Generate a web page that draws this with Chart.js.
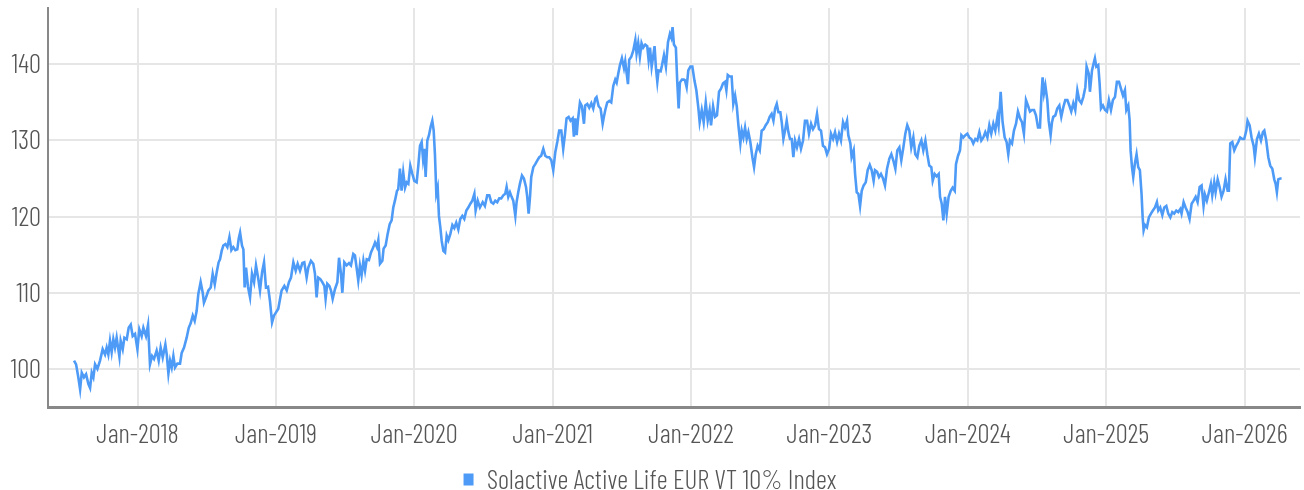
<!DOCTYPE html>
<html>
<head>
<meta charset="utf-8">
<script src="https://cdn.jsdelivr.net/npm/chart.js@4/dist/chart.umd.min.js"></script>
<style>
  html, body { margin: 0; padding: 0; background: #fff; }
  #wrap { width: 1304px; height: 490px; }
</style>
</head>
<body>
<div id="wrap"><canvas id="chart" width="1304" height="490"></canvas></div>
<script>
const seriesName = 'Solactive Active Life EUR VT 10% Index';

// time as decimal year
const dates = [
  2017.541, 2017.556, 2017.572, 2017.585, 2017.597, 2017.613, 2017.628, 2017.645, 2017.657, 2017.669,
  2017.681, 2017.693, 2017.710, 2017.729, 2017.748, 2017.765, 2017.777, 2017.789, 2017.801, 2017.813,
  2017.825, 2017.837, 2017.849, 2017.869, 2017.878, 2017.893, 2017.905, 2017.922, 2017.936, 2017.951,
  2017.965, 2017.982, 2017.999, 2018.013, 2018.030, 2018.042, 2018.061, 2018.076, 2018.090, 2018.105,
  2018.119, 2018.138, 2018.153, 2018.167, 2018.182, 2018.201, 2018.211, 2018.223, 2018.235, 2018.247,
  2018.259, 2018.271, 2018.288, 2018.307, 2018.319, 2018.336, 2018.355, 2018.370, 2018.384, 2018.399,
  2018.413, 2018.427, 2018.439, 2018.456, 2018.471, 2018.480, 2018.495, 2018.512, 2018.529, 2018.543,
  2018.558, 2018.572, 2018.586, 2018.596, 2018.608, 2018.620, 2018.635, 2018.649, 2018.664, 2018.678,
  2018.692, 2018.707, 2018.721, 2018.731, 2018.741, 2018.755, 2018.765, 2018.774, 2018.784, 2018.798,
  2018.813, 2018.827, 2018.842, 2018.856, 2018.871, 2018.885, 2018.900, 2018.914, 2018.928, 2018.943,
  2018.957, 2018.972, 2018.986,
  2018.993, 2019.017, 2019.041, 2019.061, 2019.078, 2019.094, 2019.109, 2019.126, 2019.143, 2019.157,
  2019.174, 2019.191, 2019.205, 2019.222, 2019.234, 2019.253, 2019.270, 2019.282, 2019.294, 2019.306,
  2019.321, 2019.335, 2019.350, 2019.359, 2019.371, 2019.386, 2019.398, 2019.410, 2019.427, 2019.444,
  2019.456, 2019.470, 2019.480, 2019.494, 2019.511, 2019.528, 2019.542, 2019.559, 2019.571, 2019.586,
  2019.595, 2019.607, 2019.619, 2019.632, 2019.644, 2019.656, 2019.672, 2019.687, 2019.704, 2019.716,
  2019.730, 2019.740, 2019.752, 2019.769, 2019.778, 2019.793, 2019.807, 2019.822, 2019.836, 2019.848,
  2019.860, 2019.875, 2019.884, 2019.896, 2019.908, 2019.920, 2019.933, 2019.945, 2019.957, 2019.971,
  2019.986, 2020.000, 2020.017, 2020.029, 2020.041, 2020.053, 2020.063, 2020.072, 2020.082, 2020.094,
  2020.106, 2020.118, 2020.130, 2020.140, 2020.149, 2020.159, 2020.169, 2020.178, 2020.188, 2020.198,
  2020.210, 2020.222, 2020.234, 2020.246, 2020.260, 2020.275, 2020.289, 2020.303, 2020.318, 2020.332,
  2020.347, 2020.361, 2020.376, 2020.390, 2020.405, 2020.419, 2020.434, 2020.443, 2020.458,
  2020.474, 2020.494, 2020.510, 2020.527, 2020.542, 2020.556, 2020.571, 2020.585, 2020.599, 2020.614,
  2020.628, 2020.643, 2020.657, 2020.667, 2020.679, 2020.691, 2020.703, 2020.715, 2020.730, 2020.739,
  2020.751, 2020.763, 2020.778, 2020.792, 2020.807, 2020.816, 2020.826, 2020.836, 2020.845, 2020.860,
  2020.874, 2020.889, 2020.903, 2020.917, 2020.932, 2020.946, 2020.961, 2020.975, 2020.990, 2021.004,
  2021.019, 2021.033, 2021.047, 2021.062, 2021.076, 2021.088, 2021.100, 2021.115, 2021.129, 2021.144,
  2021.153, 2021.163, 2021.173, 2021.182, 2021.197, 2021.211, 2021.226, 2021.235, 2021.250, 2021.264,
  2021.279, 2021.293, 2021.308, 2021.317, 2021.332, 2021.346, 2021.361, 2021.370, 2021.380, 2021.394,
  2021.409, 2021.423, 2021.438, 2021.452, 2021.462, 2021.474, 2021.486, 2021.500, 2021.515, 2021.524,
  2021.534, 2021.544, 2021.553, 2021.568, 2021.582, 2021.597, 2021.606, 2021.618, 2021.630, 2021.642,
  2021.654, 2021.669, 2021.683, 2021.693, 2021.703, 2021.715, 2021.727, 2021.736, 2021.746, 2021.756,
  2021.765, 2021.780, 2021.789, 2021.804, 2021.818, 2021.833, 2021.847, 2021.857, 2021.866, 2021.876,
  2021.890, 2021.900, 2021.910, 2021.919, 2021.934, 2021.948,
  2021.956, 2021.968, 2021.980, 2021.995, 2022.009, 2022.024, 2022.038, 2022.053, 2022.062, 2022.077,
  2022.091, 2022.106, 2022.120, 2022.134, 2022.144, 2022.159, 2022.173, 2022.187, 2022.202, 2022.216,
  2022.231, 2022.245, 2022.255, 2022.265, 2022.279, 2022.293, 2022.305, 2022.318, 2022.330, 2022.342,
  2022.356, 2022.366, 2022.378, 2022.390, 2022.402, 2022.414, 2022.428, 2022.443, 2022.455, 2022.467,
  2022.481, 2022.496, 2022.510, 2022.525, 2022.539, 2022.554, 2022.568, 2022.582, 2022.595, 2022.607,
  2022.619, 2022.631, 2022.645, 2022.655, 2022.667, 2022.679, 2022.691, 2022.703, 2022.715, 2022.727,
  2022.739, 2022.751, 2022.765, 2022.780, 2022.794, 2022.809, 2022.823, 2022.838, 2022.852, 2022.867,
  2022.881, 2022.896, 2022.910, 2022.924, 2022.939, 2022.953, 2022.968, 2022.982, 2022.997, 2023.011,
  2023.026, 2023.040, 2023.055, 2023.069, 2023.083, 2023.098, 2023.112, 2023.127, 2023.136, 2023.151,
  2023.160, 2023.175, 2023.185, 2023.197, 2023.209, 2023.221, 2023.233, 2023.247, 2023.262, 2023.276,
  2023.291, 2023.305, 2023.319, 2023.329, 2023.344, 2023.358, 2023.372, 2023.387, 2023.401, 2023.416,
  2023.430,
  2023.432, 2023.447, 2023.461, 2023.476, 2023.490, 2023.505, 2023.519, 2023.534, 2023.548, 2023.562,
  2023.577, 2023.591, 2023.606, 2023.620, 2023.635, 2023.649, 2023.664, 2023.678, 2023.693, 2023.707,
  2023.721, 2023.736, 2023.746, 2023.760, 2023.774, 2023.789, 2023.799, 2023.811, 2023.823, 2023.835,
  2023.847, 2023.861, 2023.876, 2023.890, 2023.905, 2023.914, 2023.929, 2023.943, 2023.953, 2023.967,
  2023.982, 2023.996, 2024.010, 2024.025, 2024.039, 2024.054, 2024.068, 2024.083, 2024.097, 2024.112,
  2024.126, 2024.141, 2024.155, 2024.169, 2024.184, 2024.198, 2024.213, 2024.222, 2024.237, 2024.251,
  2024.266, 2024.280, 2024.292, 2024.304, 2024.319, 2024.333, 2024.348, 2024.362, 2024.377, 2024.391,
  2024.405, 2024.420, 2024.434, 2024.449, 2024.463, 2024.478, 2024.492, 2024.507, 2024.521, 2024.531,
  2024.540, 2024.550, 2024.560, 2024.574, 2024.584, 2024.598, 2024.608, 2024.617, 2024.632, 2024.646,
  2024.661, 2024.675, 2024.690, 2024.704, 2024.719, 2024.733, 2024.747, 2024.762, 2024.776, 2024.791,
  2024.805, 2024.820, 2024.834, 2024.849, 2024.858, 2024.873, 2024.882, 2024.897, 2024.911,
  2024.918, 2024.928, 2024.942, 2024.952, 2024.962, 2024.976, 2024.991, 2025.005, 2025.019, 2025.034,
  2025.048, 2025.063, 2025.077, 2025.092, 2025.106, 2025.121, 2025.135, 2025.145, 2025.159, 2025.169,
  2025.176, 2025.186, 2025.195, 2025.207, 2025.219, 2025.231, 2025.243, 2025.255, 2025.263, 2025.270,
  2025.280, 2025.294, 2025.308, 2025.323, 2025.337, 2025.352, 2025.366, 2025.376, 2025.390, 2025.405,
  2025.419, 2025.434, 2025.448, 2025.463, 2025.477, 2025.491, 2025.506, 2025.520, 2025.535, 2025.544,
  2025.559, 2025.573, 2025.588, 2025.602, 2025.617, 2025.631, 2025.646, 2025.660, 2025.675, 2025.689,
  2025.703, 2025.713, 2025.727, 2025.742, 2025.756, 2025.766, 2025.780, 2025.790, 2025.805, 2025.819,
  2025.833, 2025.848, 2025.862, 2025.877, 2025.886, 2025.896, 2025.911, 2025.925, 2025.939, 2025.954,
  2025.968, 2025.983, 2025.997, 2026.012, 2026.021, 2026.036, 2026.050, 2026.065, 2026.074, 2026.089,
  2026.103, 2026.118, 2026.132, 2026.142, 2026.156, 2026.171, 2026.185, 2026.200, 2026.214, 2026.224,
  2026.233, 2026.243, 2026.257, 2026.267
];

const values = [
  101.1, 100.6, 98.9, 97.3, 99.5, 98.9, 99.3, 98.0, 97.5, 99.5,
  98.9, 100.6, 100.0, 101.1, 102.6, 101.9, 102.8, 101.9, 103.7, 102.2,
  103.9, 102.8, 104.1, 101.6, 103.7, 102.6, 104.1, 103.9, 105.4, 105.8,
  104.3, 104.6, 102.6, 105.2, 104.3, 105.4, 104.3, 105.8, 100.6, 101.7,
  101.3, 102.4, 101.1, 102.8, 101.5, 103.2, 101.9, 99.4, 101.1, 100.2,
  101.7, 100.2, 100.7, 100.7, 102.1, 102.8, 104.1, 105.4, 106.0, 107.0,
  106.3, 107.6, 109.8, 111.4, 110.0, 108.7, 109.4, 110.3, 110.7, 112.5,
  111.1, 112.7, 114.0, 114.4, 115.5, 116.2, 116.4, 116.0, 117.3, 115.6,
  116.0, 115.6, 115.7, 117.1, 117.9, 116.2, 115.7, 110.7, 113.3, 110.8,
  109.4, 112.5, 111.4, 113.6, 112.0, 110.3, 112.7, 114.0, 110.7, 110.8,
  108.9, 106.1, 107.0,
  107.2, 107.9, 110.3, 110.9, 110.3, 111.4, 112.0, 114.0, 112.9, 113.8,
  112.9, 113.9, 114.0, 112.0, 113.3, 114.2, 113.8, 112.5, 109.4, 112.0,
  111.8, 111.4, 110.9, 109.2, 111.2, 110.9, 110.3, 109.2, 110.5, 111.4,
  114.6, 112.5, 110.0, 114.0, 113.6, 113.9, 113.6, 115.1, 114.9, 112.9,
  111.6, 113.6, 112.3, 114.2, 112.9, 114.4, 114.3, 115.3, 116.0, 116.6,
  116.0, 116.9, 113.8, 114.2, 115.8, 116.2, 117.7, 119.0, 119.5, 121.2,
  122.1, 123.4, 123.6, 126.3, 123.4, 125.8, 123.8, 124.5, 124.3, 126.7,
  125.6, 124.7, 124.5, 126.7, 129.3, 129.8, 127.6, 128.9, 125.2, 130.0,
  130.7, 131.8, 132.6, 131.3, 128.2, 123.0, 123.8, 120.1, 118.6, 116.8,
  115.5, 115.3, 117.5, 116.9, 117.7, 118.9, 118.5, 119.2, 118.3, 119.7,
  120.1, 119.7, 120.8, 121.2, 121.7, 122.1, 123.0, 120.8, 122.1,
  121.2, 121.9, 121.4, 122.8, 122.8, 121.9, 121.7, 122.1, 121.9, 122.4,
  122.4, 122.8, 123.0, 123.9, 122.6, 123.2, 122.6, 122.1, 120.1, 121.9,
  123.2, 124.3, 125.4, 125.0, 123.9, 122.6, 120.4, 122.6, 125.2, 126.5,
  126.9, 127.4, 127.8, 128.0, 128.9, 128.0, 127.8, 127.8, 127.4, 126.1,
  128.5, 129.8, 131.3, 131.3, 128.9, 130.7, 132.9, 133.1, 132.6, 132.9,
  130.5, 132.9, 130.7, 132.6, 135.0, 134.5, 132.2, 134.6, 134.8, 134.3,
  134.9, 134.2, 135.5, 135.7, 134.5, 134.2, 132.2, 133.1, 134.0, 135.0,
  135.2, 135.0, 137.2, 138.0, 137.6, 138.8, 139.9, 140.8, 139.5, 140.4,
  138.9, 137.4, 140.6, 141.0, 141.8, 143.2, 141.4, 142.8, 141.0, 142.8,
  142.2, 142.6, 142.4, 140.6, 142.2, 139.7, 141.2, 142.4, 139.5, 137.7,
  139.2, 139.1, 139.8, 141.2, 139.7, 142.9, 144.0, 143.5, 144.9, 142.6,
  142.2, 137.7, 134.2, 137.6, 138.0, 138.0,
  137.9, 137.0, 139.2, 139.7, 139.7, 137.9, 136.6, 134.2, 132.4, 134.0,
  132.4, 135.0, 132.6, 134.0, 132.0, 134.5, 133.1, 133.3, 136.4, 136.8,
  137.5, 137.7, 136.6, 138.6, 138.4, 138.4, 134.8, 135.9, 134.5, 132.0,
  129.6, 131.3, 130.4, 131.7, 130.2, 131.1, 129.8, 127.8, 126.5, 128.2,
  129.3, 128.7, 131.3, 131.5, 132.0, 132.4, 133.1, 133.5, 132.6, 134.2,
  134.8, 133.7, 133.7, 132.4, 130.2, 131.3, 132.6, 131.1, 130.2, 130.2,
  127.8, 130.0, 129.1, 130.2, 128.9, 130.0, 132.6, 132.6, 130.9, 132.2,
  131.5, 132.0, 133.5, 131.5, 131.3, 129.3, 129.1, 128.2, 128.9, 130.9,
  130.2, 131.1, 129.8, 130.9, 130.0, 132.4, 131.7, 132.6, 130.7, 129.6,
  127.8, 128.7, 125.6, 123.2, 123.0, 121.4, 123.4, 124.1, 124.5, 126.1,
  126.8, 126.1, 124.7, 126.1, 125.9, 125.2, 125.6, 125.0, 124.1, 126.3,
  127.4,
  127.6, 128.2, 127.4, 126.3, 128.7, 129.1, 127.4, 129.1, 130.9, 132.0,
  131.3, 129.1, 130.4, 128.2, 127.8, 129.3, 130.0, 128.7, 130.0, 128.2,
  126.7, 126.5, 124.7, 125.6, 125.3, 125.6, 122.6, 121.7, 119.5, 122.6,
  120.4, 122.6, 123.4, 123.8, 123.4, 126.9, 128.0, 128.7, 130.7, 130.4,
  130.7, 130.9, 130.4, 130.2, 129.6, 130.2, 130.0, 131.1, 130.0, 130.4,
  131.1, 130.4, 132.0, 130.9, 132.2, 131.3, 133.1, 132.0, 136.4, 132.4,
  130.4, 129.8, 128.2, 130.0, 129.6, 131.3, 132.2, 133.8, 132.9, 132.4,
  130.9, 135.3, 134.6, 133.8, 134.0, 134.0, 133.3, 131.7, 131.7, 135.7,
  138.3, 136.2, 137.2, 135.3, 132.6, 130.7, 132.4, 133.1, 133.3, 134.2,
  134.6, 133.1, 134.4, 135.3, 135.3, 134.6, 133.8, 134.9, 134.0, 136.6,
  135.3, 134.9, 135.7, 137.0, 139.7, 138.8, 136.4, 139.2, 140.3,
  140.8, 139.7, 139.9, 137.5, 134.2, 134.6, 134.0, 133.8, 135.3, 134.0,
  135.3, 135.7, 137.7, 137.7, 136.8, 135.9, 136.6, 134.0, 134.6, 132.6,
  128.7, 126.5, 125.2, 127.0, 128.2, 126.5, 126.1, 123.0, 119.9, 118.2,
  118.9, 118.6, 119.9, 120.4, 120.8, 121.2, 121.9, 120.8, 121.2, 120.2,
  121.2, 121.4, 120.4, 119.9, 120.6, 120.4, 120.8, 120.6, 121.0, 120.4,
  121.9, 121.2, 120.6, 119.7, 121.7, 122.1, 122.6, 121.9, 123.9, 124.1,
  121.4, 122.9, 122.1, 123.2, 124.3, 122.8, 124.5, 123.2, 124.9, 123.9,
  122.6, 123.4, 124.9, 123.4, 123.4, 129.6, 129.8, 128.7, 129.3, 129.8,
  130.4, 130.2, 130.2, 131.3, 132.6, 132.0, 130.4, 129.3, 127.8, 130.2,
  130.9, 130.0, 131.1, 131.3, 130.0, 127.8, 126.7, 126.3, 124.9, 124.3,
  123.2, 124.9, 125.0, 125.0
];

const xTicks = [2018, 2019, 2020, 2021, 2022, 2023, 2024, 2025, 2026];
const yTicks = [100, 110, 120, 130, 140];

const lineColor = '#4d9bf7';
const textColor = '#555555';

Chart.defaults.font.family = "'Barlow Condensed', 'Roboto Condensed', sans-serif";
Chart.defaults.font.weight = 300;
Chart.defaults.font.size = 27;
Chart.defaults.color = textColor;

const points = dates.map((d, i) => ({ x: d, y: values[i] }));

new Chart(document.getElementById('chart'), {
  type: 'line',
  data: {
    datasets: [{
      label: seriesName,
      data: points,
      borderColor: lineColor,
      backgroundColor: lineColor,
      borderWidth: 2.6,
      pointRadius: 0,
      tension: 0
    }]
  },
  options: {
    responsive: false,
    animation: false,
    events: [],
    layout: { padding: { top: 8, right: 4, left: 0, bottom: -13 } },
    scales: {
      x: {
        type: 'linear',
        min: 2017.353,
        max: 2026.40,
        afterBuildTicks: scale => { scale.ticks = xTicks.map(v => ({ value: v })); },
        afterFit: scale => { scale.height = 59; },
        ticks: {
          padding: 11,
          maxRotation: 0,
          callback: v => 'Jan-' + v
        },
        grid: { color: '#e6e6e6', lineWidth: 2, drawTicks: false },
        border: { color: '#888888', width: 3 }
      },
      y: {
        min: 95,
        max: 147.4,
        afterBuildTicks: scale => { scale.ticks = yTicks.map(v => ({ value: v })); },
        afterFit: scale => { scale.width = 48; scale.paddingTop = 0; scale.paddingBottom = 0; },
        ticks: { padding: 7 },
        grid: { color: '#e6e6e6', lineWidth: 2, drawTicks: false },
        border: { color: '#888888', width: 2 }
      }
    },
    plugins: {
      tooltip: { enabled: false },
      legend: {
        position: 'bottom',
        labels: {
          boxWidth: 10,
          boxHeight: 12,
          padding: 0,
          generateLabels: chart => Chart.defaults.plugins.legend.labels.generateLabels(chart)
            .map(item => Object.assign(item, { lineWidth: 0, fillStyle: lineColor }))
        }
      }
    }
  }
});
</script>
</body>
</html>
